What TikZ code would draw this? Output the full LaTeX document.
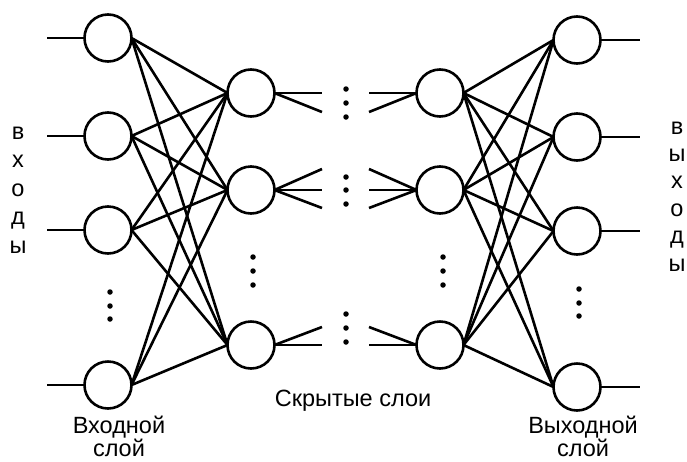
\documentclass[tikz,border=0pt]{standalone}
\usepackage{fontspec}
\setmainfont{Liberation Sans}
\usepackage{tikz}
\usetikzlibrary{positioning}
\tikzset{neuron/.style={draw,circle,minimum size=47pt,inner sep=0,outer sep=0},
    smalldot/.style={circle,fill,inner sep=0,minimum size=5.5pt},
    labeltext/.style={font=\fontsize{23.5}{28}\selectfont,inner sep=0,anchor=base}
}

\begin{document}
\begin{tikzpicture}[x=1pt,y=-1pt,line width=2.6pt]

\useasboundingbox (0,0) rectangle (687,461);

% input layer
\foreach \i/\y in {1/38,2/136,3/230,4/385}
{
    \node (in\i) at (108,\y) [neuron] {};
    \coordinate (inx\i) at (47,\y);
    \draw (inx\i) -- (in\i.west);
}

% first hidden layer
\foreach \j/\y in {1/93,2/190,3/345}
    \node (ha\j) at (251,\y) [neuron] {};

% last hidden layer
\foreach \j/\y in {1/93,2/190,3/345}
    \node (hb\j) at (440,\y) [neuron] {};

% output layer
\foreach \k/\y in {1/40,2/137,3/231,4/387}
{
    \node (out\k) at (577,\y) [neuron] {};
    \coordinate (outx\k) at (640,\y);
    \draw (out\k.east) -- (outx\k);
}

% full connections
\foreach \i in {1,...,4}
    \foreach \j in {1,2,3}
        \draw (in\i.east) -- (ha\j.west);

\foreach \j in {1,2,3}
    \foreach \k in {1,...,4}
        \draw (hb\j.east) -- (out\k.west);

% fans towards the hidden layers in between
\foreach \j/\ylist in {1/{93,112},2/{169,190,208},3/{327,345}}
    \foreach \y [count=\n] in \ylist
    {
        \coordinate (fa\j\n) at (322,\y);
        \coordinate (fb\j\n) at (369,\y);
        \draw (ha\j.east) -- (fa\j\n);
        \draw (fb\j\n) -- (hb\j.west);
    }

% dots
\foreach \y [count=\n] in {292,306,319}
{
    \node (dotin\n) at (110,\y) [smalldot] {};
    \node (dotout\n) at (579,\y+-3) [smalldot] {};
}
\foreach \y [count=\n] in {257,271,285}
{
    \node (dotha\n) at (253,\y) [smalldot] {};
    \node (dothb\n) at (443,\y) [smalldot] {};
}
\foreach \y [count=\n] in {89,103,117,177,190,204,314,328,342}
    \node (dotmid\n) at (346,\y) [smalldot] {};

% labels
\foreach \c [count=\n] in {в,х,о,д,ы}
    \node (inlbl\n) at (18,139+28.5*\n-28.5) [labeltext] {\c};
\foreach \c [count=\n] in {в,ы,х,о,д,ы}
    \node (outlbl\n) at (677,134+27.4*\n-27.4) [labeltext] {\c};

\node (inlayer) at (119,433) [labeltext] {Входной};
\node (inlayerb) at (119,456) [labeltext] {слой};
\node (hidlayers) at (353,406) [labeltext] {Скрытые слои};
\node (outlayer) at (583,433) [labeltext] {Выходной};
\node (outlayerb) at (583,456) [labeltext] {слой};

\end{tikzpicture}
\end{document}
